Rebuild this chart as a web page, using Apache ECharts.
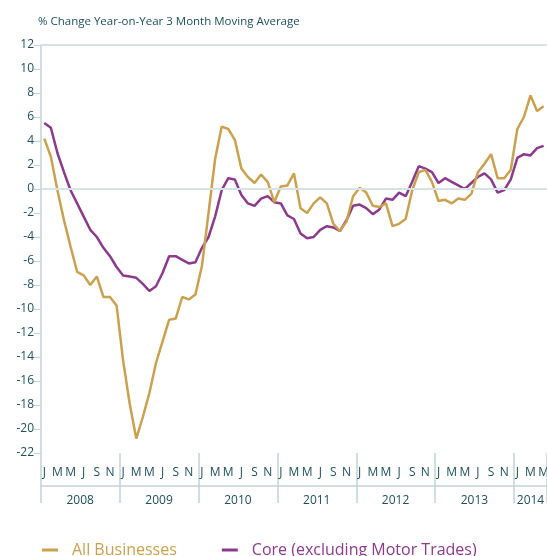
<!DOCTYPE html>
<html>
<head>
<meta charset="utf-8">
<title>% Change Year-on-Year 3 Month Moving Average</title>
<script src="https://cdn.jsdelivr.net/npm/echarts@6/dist/echarts.min.js"></script>
<style>
    html, body { margin: 0; padding: 0; overflow: hidden; background: #fff; }
    #turnover_chart { width: 552px; height: 556px; }
</style>
</head>
<body>
<div id="turnover_chart"></div>
<script>

// Chart data
// ------------------------------

var monthInitials = ['J', 'F', 'M', 'A', 'M', 'J', 'J', 'A', 'S', 'O', 'N', 'D'];
var yearLabels = ['2008', '2009', '2010', '2011', '2012', '2013', '2014'];

// Jan 2008 .. May 2014
var allBusinesses = [
    4.2, 2.7, -0.1, -2.6, -4.8, -6.9, -7.2, -8.0, -7.3, -9.0, -9.0, -9.7,
    -14.3, -17.9, -20.8, -19.0, -17.0, -14.5, -12.7, -10.9, -10.8, -9.0, -9.2, -8.8,
    -6.4, -2.0, 2.5, 5.2, 5.0, 4.1, 1.7, 1.0, 0.5, 1.2, 0.6, -1.1,
    0.2, 0.3, 1.3, -1.6, -2.0, -1.2, -0.7, -1.2, -2.9, -3.5, -2.7, -0.6,
    0.1, -0.3, -1.4, -1.5, -1.2, -3.1, -2.9, -2.5, -0.1, 1.4, 1.6, 0.6,
    -1.0, -0.9, -1.2, -0.8, -0.9, -0.4, 1.4, 2.1, 2.9, 0.9, 0.9, 1.6,
    5.0, 6.0, 7.8, 6.5, 6.9
];

var coreExMotorTrades = [
    5.5, 5.1, 3.0, 1.4, -0.1, -1.2, -2.3, -3.4, -4.0, -4.9, -5.6, -6.5,
    -7.2, -7.3, -7.4, -7.9, -8.5, -8.1, -7.0, -5.6, -5.6, -5.9, -6.2, -6.1,
    -4.9, -4.0, -2.3, -0.1, 0.9, 0.8, -0.5, -1.2, -1.4, -0.8, -0.6, -1.1,
    -1.2, -2.2, -2.5, -3.7, -4.1, -4.0, -3.4, -3.1, -3.2, -3.5, -2.6, -1.4,
    -1.3, -1.6, -2.1, -1.7, -0.8, -0.9, -0.3, -0.6, 0.6, 1.9, 1.7, 1.4,
    0.5, 0.9, 0.6, 0.3, 0.0, 0.5, 1.0, 1.3, 0.8, -0.3, -0.1, 0.8,
    2.6, 2.9, 2.8, 3.4, 3.6
];

var referenceLines = [0, 12];


// Setup module
// ------------------------------

var EchartsTurnoverLines = function() {

    var _turnoverLinesExample = function() {
        if (typeof echarts == 'undefined') {
            console.warn('Warning - echarts.min.js is not loaded.');
            return;
        }

        var line_element = document.getElementById('turnover_chart');
        if (!line_element) {
            return;
        }

        // Month and year categories
        var months = [];
        var monthYears = [];
        for (var i = 0; i < allBusinesses.length; i++) {
            months.push(monthInitials[i % 12]);
            monthYears.push(yearLabels[Math.floor(i / 12)]);
        }

        var textColor = '#1d4f5c';
        var axisColor = '#c3d2d8';
        var goldColor = '#c9a14f';
        var purpleColor = '#8b3a8c';

        var line_chart = echarts.init(line_element, null, { renderer: 'canvas' });

        line_chart.setOption({

            animation: false,

            textStyle: {
                fontFamily: '"Open Sans", "Noto Sans", sans-serif',
                fontSize: 12
            },

            title: {
                text: '% Change Year-on-Year 3 Month Moving Average',
                left: 33,
                top: 11,
                textStyle: {
                    color: textColor,
                    fontSize: 11.5,
                    fontWeight: 'normal',
                    fontFamily: '"Open Sans", sans-serif'
                }
            },

            grid: {
                left: 41,
                right: 0,
                top: 45,
                bottom: 103,
                containLabel: false
            },

            legend: {
                left: 37,
                top: 537,
                icon: 'rect',
                itemWidth: 16,
                itemHeight: 3,
                itemGap: 45,
                textStyle: {
                    fontSize: 16,
                    padding: [0, 0, 0, 9]
                },
                data: [
                    { name: 'All Businesses', textStyle: { color: goldColor } },
                    { name: 'Core (excluding Motor Trades)', textStyle: { color: purpleColor } }
                ]
            },

            xAxis: [
                {
                    // Months
                    type: 'category',
                    data: months,
                    boundaryGap: true,
                    position: 'bottom',
                    axisLine: {
                        lineStyle: { color: axisColor, width: 1.5 }
                    },
                    axisTick: {
                        interval: 0,
                        length: 6,
                        lineStyle: { color: axisColor, width: 1 }
                    },
                    axisLabel: {
                        interval: function(index) {
                            return index % 2 === 0;
                        },
                        color: textColor,
                        fontSize: 12,
                        margin: 14
                    },
                    splitLine: { show: false }
                },
                {
                    // Years
                    type: 'category',
                    data: monthYears,
                    boundaryGap: true,
                    position: 'bottom',
                    offset: 33,
                    axisLine: {
                        show: true,
                        lineStyle: { color: axisColor, width: 1.5 }
                    },
                    axisTick: {
                        show: true,
                        interval: function(index) {
                            return index % 12 === 0;
                        },
                        length: 17,
                        lineStyle: { color: axisColor, width: 1.5 }
                    },
                    axisLabel: {
                        interval: function(index) {
                            return index % 12 === 6 || index === 74;
                        },
                        formatter: function(value, index) {
                            return index === 74 ? value : '{shift|' + value + '}';
                        },
                        rich: {
                            shift: { padding: [0, 7, 0, 0], color: textColor, fontSize: 12 }
                        },
                        color: textColor,
                        fontSize: 12,
                        margin: 9
                    },
                    splitLine: { show: false }
                },
                {
                    // Year separators through the month row
                    type: 'category',
                    data: months,
                    boundaryGap: true,
                    position: 'bottom',
                    axisLine: { show: false },
                    axisTick: {
                        show: true,
                        interval: function(index) {
                            return index % 12 === 0;
                        },
                        length: 33,
                        lineStyle: { color: axisColor, width: 1.5 }
                    },
                    axisLabel: { show: false },
                    splitLine: { show: false }
                }
            ],

            yAxis: {
                type: 'value',
                min: -22,
                max: 12,
                interval: 2,
                axisLine: {
                    show: true,
                    lineStyle: { color: axisColor, width: 1.5 }
                },
                axisTick: {
                    show: true,
                    length: 7,
                    lineStyle: { color: axisColor }
                },
                axisLabel: {
                    color: textColor,
                    fontSize: 12,
                    margin: 7
                },
                splitLine: { show: false }
            },

            series: [
                {
                    name: 'reference',
                    type: 'line',
                    z: 1,
                    data: [],
                    markLine: {
                        silent: true,
                        symbol: ['none', 'none'],
                        label: { show: false },
                        lineStyle: { color: '#d8e1e4', width: 2, type: 'solid' },
                        data: referenceLines.map(function(v) {
                            return { yAxis: v };
                        })
                    }
                },
                {
                    name: 'All Businesses',
                    type: 'line',
                    symbol: 'none',
                    z: 3,
                    lineStyle: { color: goldColor, width: 2.5 },
                    itemStyle: { color: goldColor },
                    data: allBusinesses
                },
                {
                    name: 'Core (excluding Motor Trades)',
                    type: 'line',
                    symbol: 'none',
                    z: 2,
                    lineStyle: { color: purpleColor, width: 2.5 },
                    itemStyle: { color: purpleColor },
                    data: coreExMotorTrades
                }
            ]
        });
    };

    return {
        init: function() {
            _turnoverLinesExample();
        }
    }
}();


// Initialize module
// ------------------------------

document.addEventListener('DOMContentLoaded', function() {
    EchartsTurnoverLines.init();
});
</script>
</body>
</html>
